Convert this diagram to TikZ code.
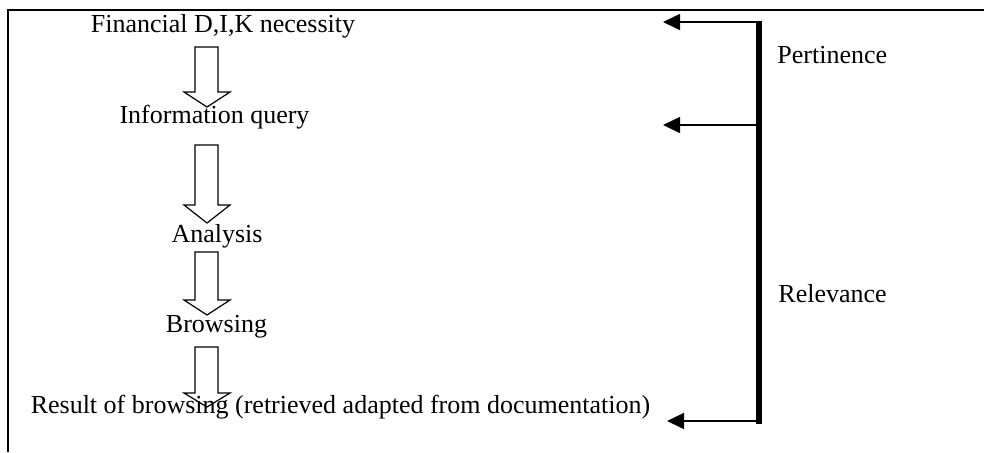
\documentclass[tikz,border=0pt]{standalone}
\usepackage{fontspec}
\setmainfont{Liberation Serif}
\usetikzlibrary{arrows.meta}
\tikzset{feedback/.style={line width=0.75pt,-{Triangle[length=8.5pt,width=8pt]}}}

\begin{document}
\begin{tikzpicture}[
  x=0.5pt, y=-0.5pt,
  flowtext/.style={inner sep=0pt, font=\fontsize{13}{15}\selectfont},
  blockarrow/.style={draw, line width=0.6pt, line join=miter},
  bar/.style={line width=3pt}
]
\useasboundingbox (0,0) rectangle (984,452);

% frame (open on the right and at the bottom)
\draw[line width=1pt] (984,10) -- (8,10) -- (8,452);

% the steps
\node[flowtext, anchor=base] (need) at (223,32.5) {Financial D,I,K necessity};
\node[flowtext, anchor=base] (query) at (214.5,123) {Information query};
\node[flowtext, anchor=base] (analysis) at (217,242) {Analysis};
\node[flowtext, anchor=base] (browse) at (216.5,332) {Browsing};
\node[flowtext, anchor=base] (result) at (340.5,413) {Result of browsing (retrieved adapted from documentation)};

% hollow arrows between the steps
\foreach \t/\h/\p in {47/92/107, 145/205/223, 252/300/315, 347/393/407}
  \draw[blockarrow] (195,\t) -- (218,\t) -- (218,\h) -- (230,\h) -- (207,\p)
    -- (184,\h) -- (195,\h) -- cycle;

% side bar with its labels
\coordinate (bartop) at (759,20.5);
\coordinate (barbot) at (759,424);
\draw[bar] (bartop) -- (barbot);
\node[flowtext, anchor=base west] (pert) at (777,63) {Pertinence};
\node[flowtext, anchor=base west] (relev) at (778,302) {Relevance};

% arrows back to the steps
\coordinate (toneed) at (663,22);
\coordinate (toquery) at (663,125);
\coordinate (toresult) at (667,421);
\draw[feedback] (bartop |- toneed) -- (toneed);
\draw[feedback] (bartop |- toquery) -- (toquery);
\draw[feedback] (bartop |- toresult) -- (toresult);
\end{tikzpicture}
\end{document}
